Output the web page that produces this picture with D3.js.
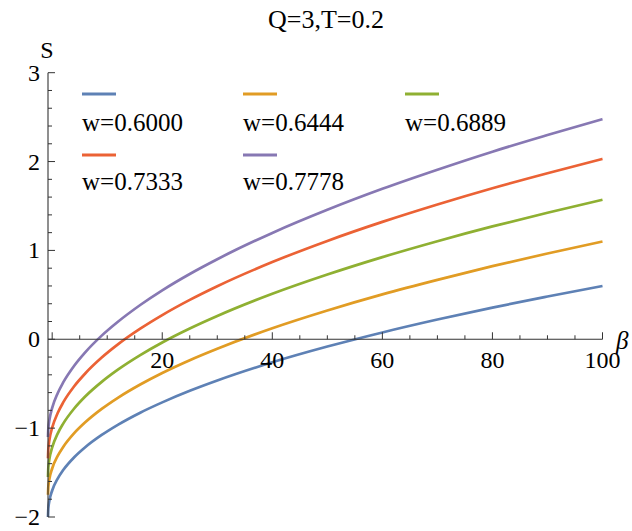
<!DOCTYPE html>
<html>
<head>
<meta charset="utf-8">
<script src="https://cdn.jsdelivr.net/npm/d3@7"></script>
<style>
  html, body { margin: 0; padding: 0; background: #fff; }
  svg { display: block; }
  text { font-family: "Liberation Serif", "DejaVu Serif", serif; fill: #000; }
</style>
</head>
<body>
<svg id="chart" width="632" height="531"></svg>
<script>
// ---- data ----
const title = "Q=3,T=0.2";
const beta = [-0.76, -0.7, -0.5, 0, 1, 2, 4, 6, 9, 12, 16, 20, 25, 30, 40, 50, 60, 70, 80, 90, 100];
const s0600 = [-2.000, -1.903, -1.815, -1.702, -1.568, -1.472, -1.328, -1.215, -1.077, -0.960, -0.826, -0.710, -0.580, -0.464, -0.259, -0.082, 0.077, 0.222, 0.357, 0.481, 0.600];
const s0644 = [-1.750, -1.659, -1.570, -1.454, -1.313, -1.212, -1.057, -0.935, -0.784, -0.656, -0.509, -0.379, -0.235, -0.106, 0.124, 0.324, 0.505, 0.669, 0.823, 0.965, 1.100];
const s0689 = [-1.550, -1.446, -1.346, -1.217, -1.061, -0.949, -0.779, -0.644, -0.479, -0.339, -0.178, -0.036, 0.121, 0.262, 0.512, 0.729, 0.925, 1.104, 1.270, 1.424, 1.570];
const s0733 = [-1.340, -1.235, -1.131, -0.995, -0.830, -0.711, -0.529, -0.385, -0.206, -0.055, 0.119, 0.272, 0.443, 0.597, 0.869, 1.107, 1.321, 1.517, 1.700, 1.869, 2.030];
const s0778 = [-1.100, -1.006, -0.907, -0.773, -0.607, -0.486, -0.298, -0.147, 0.041, 0.200, 0.386, 0.551, 0.735, 0.901, 1.197, 1.457, 1.693, 1.908, 2.111, 2.298, 2.478];
const seriesNames = ["w=0.6000", "w=0.6444", "w=0.6889", "w=0.7333", "w=0.7778"];
const seriesValues = [s0600, s0644, s0689, s0733, s0778];
const colors = ["#5e81b5", "#e19c24", "#8fb032", "#eb6235", "#8778b3"];
const xMajorTicks = [0, 20, 40, 60, 80, 100];
const xTickLabels = ["", "20", "40", "60", "80", "100"];
const yMajorTicks = [-2, -1, 0, 1, 2, 3];
const yTickLabels = ["\u22122", "\u22121", "0", "1", "2", "3"];

// ---- layout ----
const svg = d3.select("#chart");
const x = d3.scaleLinear().domain([-0.76, 100]).range([48, 602.5]);
const y = d3.scaleLinear().domain([-2, 3]).range([517, 72.7]);
const axisColor = "#333";

// title
svg.append("text").attr("x", 326).attr("y", 28).attr("text-anchor", "middle")
  .style("font-size", "26px").text(title);

// curves
const line = d3.line().x(d => x(d[0])).y(d => y(d[1])).curve(d3.curveMonotoneX);
seriesValues.forEach((vals, i) => {
  svg.append("path")
    .attr("d", line(beta.map((b, j) => [b, vals[j]])))
    .attr("fill", "none").attr("stroke", colors[i]).attr("stroke-width", 2.7)
    .attr("stroke-linejoin", "round");
});

// x axis (at S = 0)
const y0 = y(0);
const gx = svg.append("g");
gx.append("line").attr("x1", x(-0.76)).attr("x2", x(100)).attr("y1", y0).attr("y2", y0)
  .attr("stroke", axisColor).attr("stroke-width", 1.1);
const xMinor = d3.range(0, 101, 5).filter(v => v % 20 !== 0);
gx.selectAll(".xmin").data(xMinor).enter().append("line")
  .attr("x1", d => x(d)).attr("x2", d => x(d)).attr("y1", y0).attr("y2", y0 - 4)
  .attr("stroke", axisColor).attr("stroke-width", 1);
gx.selectAll(".xmaj").data(xMajorTicks).enter().append("line")
  .attr("x1", d => x(d)).attr("x2", d => x(d)).attr("y1", y0).attr("y2", y0 - 7)
  .attr("stroke", axisColor).attr("stroke-width", 1);
gx.selectAll(".xlab").data(xMajorTicks).enter().append("text")
  .attr("x", d => x(d)).attr("y", y0 + 29).attr("text-anchor", "middle")
  .style("font-size", "24px").text((d, i) => xTickLabels[i]);
gx.append("text").attr("x", 616).attr("y", y0 + 10).style("font-size", "25px")
  .style("font-style", "italic").text("\u03b2");

// y axis
const xa = x(-0.76);
const gy = svg.append("g");
gy.append("line").attr("x1", xa).attr("x2", xa).attr("y1", y(-2)).attr("y2", y(3))
  .attr("stroke", axisColor).attr("stroke-width", 1.1);
const yMinor = d3.range(-2, 3.001, 0.2).map(v => +v.toFixed(1)).filter(v => Math.abs(v - Math.round(v)) > 1e-6);
gy.selectAll(".ymin").data(yMinor).enter().append("line")
  .attr("x1", xa).attr("x2", xa + 4).attr("y1", d => y(d)).attr("y2", d => y(d))
  .attr("stroke", axisColor).attr("stroke-width", 1);
gy.selectAll(".ymaj").data(yMajorTicks).enter().append("line")
  .attr("x1", xa).attr("x2", xa + 7).attr("y1", d => y(d)).attr("y2", d => y(d))
  .attr("stroke", axisColor).attr("stroke-width", 1);
gy.selectAll(".ylab").data(yMajorTicks).enter().append("text")
  .attr("x", 40).attr("y", d => y(d) + 8).attr("text-anchor", "end")
  .style("font-size", "24px").text((d, i) => yTickLabels[i]);
gy.append("text").attr("x", 47).attr("y", 58).attr("text-anchor", "middle")
  .style("font-size", "24px").text("S");

// legend
const legX = [82, 243, 405];
const legLineY = [94, 155];
const legTextY = [131, 190];
seriesNames.forEach((name, i) => {
  const c = i % 3, r = Math.floor(i / 3);
  svg.append("line").attr("x1", legX[c]).attr("x2", legX[c] + 34)
    .attr("y1", legLineY[r]).attr("y2", legLineY[r])
    .attr("stroke", colors[i]).attr("stroke-width", 3);
  svg.append("text").attr("x", legX[c]).attr("y", legTextY[r])
    .style("font-size", "25px").text(name);
});
</script>
</body>
</html>
